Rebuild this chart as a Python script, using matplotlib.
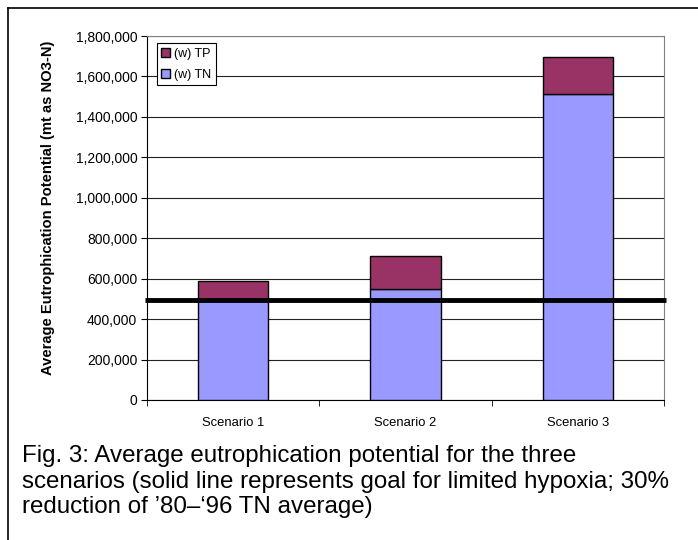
import matplotlib.pyplot as plt
from matplotlib.lines import Line2D
from matplotlib.ticker import FuncFormatter, FixedLocator

scenarios = ['Scenario 1', 'Scenario 2', 'Scenario 3']
tn_values = [492000, 549000, 1513000]
tp_values = [96000, 163000, 183000]
goal_value = 495000
y_ticks = list(range(0, 1800001, 200000))
caption = ("Fig. 3: Average eutrophication potential for the three\n"
           "scenarios (solid line represents goal for limited hypoxia; 30%\n"
           "reduction of \u201980\u2013\u201896 TN average)")

plt.rcParams['font.family'] = ['Liberation Sans', 'DejaVu Sans']

fig = plt.figure(figsize=(6.98, 5.4), dpi=100)
ax = fig.add_axes([0.2106, 0.2593, 0.7407, 0.6740])

x = list(range(len(scenarios)))
ax.bar(x, tn_values, width=0.41, color='#9999FF', edgecolor='black',
       linewidth=1, label='(w) TN', zorder=3)
ax.bar(x, tp_values, width=0.41, bottom=tn_values, color='#993366',
       edgecolor='black', linewidth=1, label='(w) TP', zorder=3)

# goal line (slightly past both spines, as in the original)
ax.plot([-0.512, 2.512], [goal_value, goal_value], color='black', lw=3.5,
        solid_capstyle='butt', clip_on=False, zorder=4)

ax.set_xlim(-0.5, 2.5)
ax.set_ylim(0, 1800000)
ax.set_yticks(y_ticks)
ax.yaxis.set_major_formatter(FuncFormatter(lambda v, p: f'{int(v):,}'))
ax.set_xticks(x)
ax.set_xticklabels(scenarios, fontsize=9.4)
ax.tick_params(axis='x', which='major', length=0, pad=12)
ax.xaxis.set_minor_locator(FixedLocator([-0.5, 0.5, 1.5, 2.5]))
ax.tick_params(axis='x', which='minor', length=4, color='black', direction='out')
ax.tick_params(axis='y', labelsize=10, length=4, direction='out', pad=3)
ax.grid(axis='y', color='#222222', lw=0.8, zorder=0)
ax.set_axisbelow(True)
for s in ['top', 'right']:
    ax.spines[s].set_color('#808080')
for s in ['left', 'bottom']:
    ax.spines[s].set_color('black')

ax.set_ylabel('Average Eutrophication Potential (mt as NO3-N)', fontsize=10.6,
              fontweight='bold')
ax.yaxis.set_label_coords(-0.178, 0.527)

handles, labels = ax.get_legend_handles_labels()
leg = ax.legend(handles[::-1], labels[::-1], loc='upper left',
                bbox_to_anchor=(0.019, 0.98), fontsize=9, frameon=True,
                fancybox=False, edgecolor='black', framealpha=1,
                handlelength=0.7, handleheight=0.7, handletextpad=0.35,
                borderpad=0.35, labelspacing=0.75, borderaxespad=0)
leg.get_frame().set_linewidth(0.8)

fig.text(0.032, 0.176, caption, fontsize=17.4, va='top', ha='left',
         linespacing=1.22)

# frame around the figure (left and top)
fig.add_artist(Line2D([8 / 698, 8 / 698], [0, 1 - 8 / 540],
                      transform=fig.transFigure, color='black', lw=1.2))
fig.add_artist(Line2D([8 / 698, 1], [1 - 8 / 540, 1 - 8 / 540],
                      transform=fig.transFigure, color='black', lw=1.2))

fig.savefig('out.png', dpi=100)
